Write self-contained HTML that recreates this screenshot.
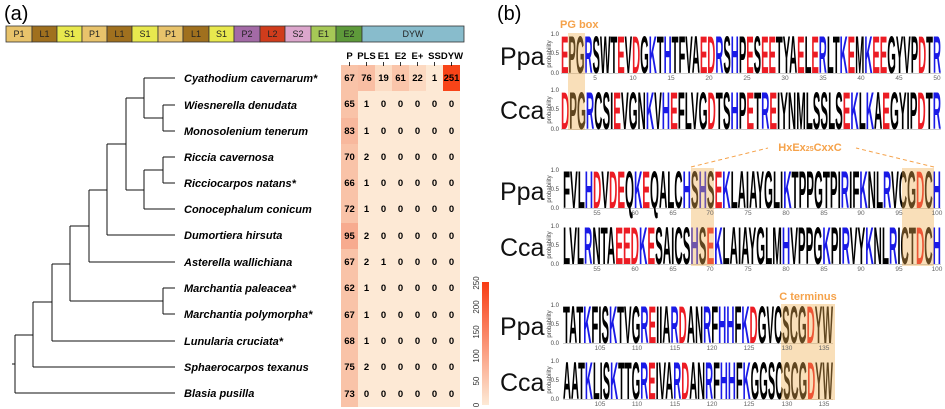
<!DOCTYPE html>
<html><head><meta charset="utf-8"><style>
html,body{margin:0;padding:0;background:#fff;}
svg{display:block;font-family:"Liberation Sans",sans-serif;}
.r{fill:#ec1c24}.b{fill:#1a1ae6}
.lg{font-weight:bold;font-size:53px;}
.tk{font-size:6.5px;fill:#666;}
.yl{font-size:6px;fill:#444;}
.tl{font-weight:bold;font-style:italic;font-size:11px;}
.hn{font-weight:bold;font-size:9.5px;text-anchor:middle;}
.hh{font-weight:bold;font-size:9.5px;text-anchor:middle;}
.ds{font-size:9px;text-anchor:middle;fill:#222;}
</style></head><body>
<svg width="945" height="409" viewBox="0 0 945 409" xmlns="http://www.w3.org/2000/svg">
<text x="4" y="20" font-size="20">(a)</text>
<text x="497" y="20" font-size="20">(b)</text>
<g stroke="#333" stroke-width="0.8">
<rect x="6" y="26" width="26" height="16" fill="#e8c36b"/>
<rect x="32" y="26" width="25" height="16" fill="#a0701e"/>
<rect x="57" y="26" width="25" height="16" fill="#e8e84e"/>
<rect x="82" y="26" width="25" height="16" fill="#e8c36b"/>
<rect x="107" y="26" width="25" height="16" fill="#a0701e"/>
<rect x="132" y="26" width="26" height="16" fill="#e8e84e"/>
<rect x="158" y="26" width="25" height="16" fill="#e8c36b"/>
<rect x="183" y="26" width="26" height="16" fill="#a0701e"/>
<rect x="209" y="26" width="25" height="16" fill="#e8e84e"/>
<rect x="234" y="26" width="26" height="16" fill="#a36aa6"/>
<rect x="260" y="26" width="25" height="16" fill="#d03c1c"/>
<rect x="285" y="26" width="26" height="16" fill="#dca6cc"/>
<rect x="311" y="26" width="25" height="16" fill="#a6c856"/>
<rect x="336" y="26" width="26" height="16" fill="#5e9a3a"/>
<rect x="362" y="26" width="102" height="16" fill="#88bccc"/>
</g>
<g class="ds">
<text x="19" y="37">P1</text><text x="44.5" y="37">L1</text><text x="69.5" y="37">S1</text>
<text x="94.5" y="37">P1</text><text x="119.5" y="37">L1</text><text x="145" y="37">S1</text>
<text x="170.5" y="37">P1</text><text x="196" y="37">L1</text><text x="221.5" y="37">S1</text>
<text x="247" y="37">P2</text><text x="272.5" y="37">L2</text><text x="298" y="37">S2</text>
<text x="323.5" y="37">E1</text><text x="349" y="37">E2</text><text x="413" y="37">DYW</text>
</g>
<g stroke="#111" stroke-width="1" fill="none">
<path d="M144,78H175M163,105H175M163,131H175M163,118V105M163,131V118M144,118H163M144,78V118"/>
<path d="M163,157H175M163,183H175M163,157V183M144,170H163M144,209H175M144,170V209"/>
<path d="M126,98H144M126,190H144M126,98V190"/>
<path d="M107,144H126M107,235H175M107,144V235"/>
<path d="M89,190H107M89,262H175M89,190V262"/>
<path d="M163,288H175M163,314H175M163,288V314M70,301H163M70,226H89M70,226V301"/>
<path d="M52,264H70M52,341H175M52,264V341"/>
<path d="M33,302H52M33,367H175M33,302V367"/>
<path d="M15,335H33M15,393H175M15,335V393M12,364H15"/>
</g>
<g class="tl">
<text x="184" y="82">Cyathodium cavernarum*</text>
<text x="184" y="109">Wiesnerella denudata</text>
<text x="184" y="135">Monosolenium tenerum</text>
<text x="184" y="161">Riccia cavernosa</text>
<text x="184" y="187">Ricciocarpos natans*</text>
<text x="184" y="213">Conocephalum conicum</text>
<text x="184" y="239">Dumortiera hirsuta</text>
<text x="184" y="266">Asterella wallichiana</text>
<text x="184" y="292">Marchantia paleacea*</text>
<text x="184" y="318">Marchantia polymorpha*</text>
<text x="184" y="345">Lunularia cruciata*</text>
<text x="184" y="371">Sphaerocarpos texanus</text>
<text x="184" y="397">Blasia pusilla</text>
</g>
<rect x="341" y="65" width="119" height="342" fill="#fde9d5"/>
<rect x="341" y="65" width="17" height="342" fill="#f9c3a8"/>
<rect x="341" y="118" width="17" height="26" fill="#f8b89d"/>
<rect x="341" y="223" width="17" height="26" fill="#f7ab8f"/>
<rect x="358" y="65" width="17" height="26" fill="#f9bea3"/>
<rect x="375" y="65" width="17" height="26" fill="#fcdcc4"/>
<rect x="392" y="65" width="17" height="26" fill="#fac5aa"/>
<rect x="409" y="65" width="17" height="26" fill="#fcd9c1"/>
<rect x="443" y="65" width="17" height="26" fill="#f84418"/>
<g stroke="#000" stroke-width="0.8"><path d="M349.5,62V66M366.5,62V66M383.5,62V66M400.5,62V66M417.5,62V66M434.5,62V66M451.5,62V66"/></g>
<g class="hh">
<text x="349.5" y="59">P</text><text x="366.5" y="59">PLS</text><text x="383.5" y="59">E1</text>
<text x="400.5" y="59">E2</text><text x="417.5" y="59">E+</text><text x="434.5" y="59">SS</text><text x="452" y="59">DYW</text>
</g>
<g class="hn">
<text y="81"><tspan x="349.5">67</tspan><tspan x="366.5">76</tspan><tspan x="383.5">19</tspan><tspan x="400.5">61</tspan><tspan x="417.5">22</tspan><tspan x="434.5">1</tspan><tspan x="451.5">251</tspan></text>
<text y="107"><tspan x="349.5">65</tspan><tspan x="366.5">1</tspan><tspan x="383.5">0</tspan><tspan x="400.5">0</tspan><tspan x="417.5">0</tspan><tspan x="434.5">0</tspan><tspan x="451.5">0</tspan></text>
<text y="134"><tspan x="349.5">83</tspan><tspan x="366.5">1</tspan><tspan x="383.5">0</tspan><tspan x="400.5">0</tspan><tspan x="417.5">0</tspan><tspan x="434.5">0</tspan><tspan x="451.5">0</tspan></text>
<text y="160"><tspan x="349.5">70</tspan><tspan x="366.5">2</tspan><tspan x="383.5">0</tspan><tspan x="400.5">0</tspan><tspan x="417.5">0</tspan><tspan x="434.5">0</tspan><tspan x="451.5">0</tspan></text>
<text y="186"><tspan x="349.5">66</tspan><tspan x="366.5">1</tspan><tspan x="383.5">0</tspan><tspan x="400.5">0</tspan><tspan x="417.5">0</tspan><tspan x="434.5">0</tspan><tspan x="451.5">0</tspan></text>
<text y="212"><tspan x="349.5">72</tspan><tspan x="366.5">1</tspan><tspan x="383.5">0</tspan><tspan x="400.5">0</tspan><tspan x="417.5">0</tspan><tspan x="434.5">0</tspan><tspan x="451.5">0</tspan></text>
<text y="239"><tspan x="349.5">95</tspan><tspan x="366.5">2</tspan><tspan x="383.5">0</tspan><tspan x="400.5">0</tspan><tspan x="417.5">0</tspan><tspan x="434.5">0</tspan><tspan x="451.5">0</tspan></text>
<text y="265"><tspan x="349.5">67</tspan><tspan x="366.5">2</tspan><tspan x="383.5">1</tspan><tspan x="400.5">0</tspan><tspan x="417.5">0</tspan><tspan x="434.5">0</tspan><tspan x="451.5">0</tspan></text>
<text y="291"><tspan x="349.5">62</tspan><tspan x="366.5">1</tspan><tspan x="383.5">0</tspan><tspan x="400.5">0</tspan><tspan x="417.5">0</tspan><tspan x="434.5">0</tspan><tspan x="451.5">0</tspan></text>
<text y="318"><tspan x="349.5">67</tspan><tspan x="366.5">1</tspan><tspan x="383.5">0</tspan><tspan x="400.5">0</tspan><tspan x="417.5">0</tspan><tspan x="434.5">0</tspan><tspan x="451.5">0</tspan></text>
<text y="344"><tspan x="349.5">68</tspan><tspan x="366.5">1</tspan><tspan x="383.5">0</tspan><tspan x="400.5">0</tspan><tspan x="417.5">0</tspan><tspan x="434.5">0</tspan><tspan x="451.5">0</tspan></text>
<text y="370"><tspan x="349.5">75</tspan><tspan x="366.5">2</tspan><tspan x="383.5">0</tspan><tspan x="400.5">0</tspan><tspan x="417.5">0</tspan><tspan x="434.5">0</tspan><tspan x="451.5">0</tspan></text>
<text y="397"><tspan x="349.5">73</tspan><tspan x="366.5">0</tspan><tspan x="383.5">0</tspan><tspan x="400.5">0</tspan><tspan x="417.5">0</tspan><tspan x="434.5">0</tspan><tspan x="451.5">0</tspan></text>
</g>
<defs><linearGradient id="cb" x1="0" y1="1" x2="0" y2="0"><stop offset="0" stop-color="#fdead6"/><stop offset="1" stop-color="#f83c14"/></linearGradient></defs>
<rect x="482" y="282" width="7" height="123" fill="url(#cb)"/>
<g font-size="8" fill="#333" text-anchor="middle">
<text transform="translate(479,283) rotate(-90)">250</text>
<text transform="translate(479,307) rotate(-90)">200</text>
<text transform="translate(479,332) rotate(-90)">150</text>
<text transform="translate(479,356) rotate(-90)">100</text>
<text transform="translate(479,381) rotate(-90)">50</text>
<text transform="translate(479,405) rotate(-90)">0</text>
</g>
<g font-size="25" fill="#111">
<text x="500" y="65">Ppa</text><text x="500" y="119">Cca</text>
<text x="500" y="200">Ppa</text><text x="500" y="256">Cca</text>
<text x="500" y="335">Ppa</text><text x="500" y="391">Cca</text>
</g>
<g class="yl" text-anchor="end">
<text x="559" y="36">1.0</text><text x="559" y="55">0.5</text><text x="559" y="75">0.0</text>
<text x="559" y="92">1.0</text><text x="559" y="111">0.5</text><text x="559" y="131">0.0</text>
<text x="559" y="172">1.0</text><text x="559" y="191">0.5</text><text x="559" y="210">0.0</text>
<text x="559" y="228">1.0</text><text x="559" y="247">0.5</text><text x="559" y="266">0.0</text>
<text x="559" y="307">1.0</text><text x="559" y="326">0.5</text><text x="559" y="345">0.0</text>
<text x="559" y="363">1.0</text><text x="559" y="382">0.5</text><text x="559" y="401">0.0</text>
</g>
<g class="yl" text-anchor="middle">
<text transform="translate(551,54) rotate(-90)">probability</text>
<text transform="translate(551,110) rotate(-90)">probability</text>
<text transform="translate(551,189) rotate(-90)">probability</text>
<text transform="translate(551,245) rotate(-90)">probability</text>
<text transform="translate(551,324) rotate(-90)">probability</text>
<text transform="translate(551,380) rotate(-90)">probability</text>
</g>
<g stroke="#999" stroke-width="0.6">
<path d="M561,73.5H941M561,129.5H941M563,208.5H941M563,264.5H941M563,343.5H833M563,399.5H833"/>
</g>
<text class="lg" x="561" y="73" textLength="380" lengthAdjust="spacingAndGlyphs"><tspan class="r">E</tspan>PG<tspan class="b">R</tspan>SWT<tspan class="r">E</tspan>V<tspan class="r">D</tspan>G<tspan class="b">K</tspan>T<tspan class="b">H</tspan>TFVA<tspan class="r">ED</tspan><tspan class="b">R</tspan>S<tspan class="b">H</tspan>P<tspan class="r">E</tspan>S<tspan class="r">EE</tspan>TYA<tspan class="r">E</tspan>L<tspan class="r">E</tspan><tspan class="b">R</tspan>LT<tspan class="b">K</tspan><tspan class="r">E</tspan>M<tspan class="b">K</tspan><tspan class="r">EE</tspan>GYVP<tspan class="r">D</tspan>T<tspan class="b">R</tspan></text>
<text class="lg" x="561" y="129" textLength="380" lengthAdjust="spacingAndGlyphs"><tspan class="r">D</tspan>PG<tspan class="b">R</tspan>CSI<tspan class="r">E</tspan>VGN<tspan class="b">K</tspan>V<tspan class="b">H</tspan><tspan class="r">E</tspan>FLVG<tspan class="r">D</tspan>TS<tspan class="b">H</tspan>P<tspan class="r">E</tspan>T<tspan class="b">R</tspan><tspan class="r">E</tspan>IYNMLSSLS<tspan class="r">E</tspan><tspan class="b">K</tspan>L<tspan class="b">K</tspan>A<tspan class="r">E</tspan>GYIP<tspan class="r">D</tspan>T<tspan class="b">R</tspan></text>
<text class="lg" x="563" y="208" textLength="378" lengthAdjust="spacingAndGlyphs">FVL<tspan class="b">H</tspan><tspan class="r">D</tspan>V<tspan class="r">DE</tspan>Q<tspan class="b">K</tspan><tspan class="r">E</tspan>QALC<tspan class="b">H</tspan>S<tspan class="b">H</tspan>S<tspan class="r">E</tspan><tspan class="b">K</tspan>LAIAYGLI<tspan class="b">K</tspan>TPPGTPI<tspan class="b">R</tspan>IF<tspan class="b">K</tspan>NL<tspan class="b">R</tspan>VCG<tspan class="r">D</tspan>C<tspan class="b">H</tspan></text>
<text class="lg" x="563" y="264" textLength="378" lengthAdjust="spacingAndGlyphs">LVL<tspan class="b">R</tspan>NTA<tspan class="r">EED</tspan><tspan class="b">K</tspan><tspan class="r">E</tspan>SAICS<tspan class="b">H</tspan>S<tspan class="r">E</tspan><tspan class="b">K</tspan>LAIAYGLM<tspan class="b">H</tspan>VPPG<tspan class="b">K</tspan>PI<tspan class="b">R</tspan>VY<tspan class="b">K</tspan>NL<tspan class="b">R</tspan>ICT<tspan class="r">D</tspan>C<tspan class="b">H</tspan></text>
<text class="lg" x="563" y="343" textLength="270" lengthAdjust="spacingAndGlyphs">TAT<tspan class="b">K</tspan>FIS<tspan class="b">K</tspan>TVG<tspan class="b">R</tspan><tspan class="r">E</tspan>IIA<tspan class="b">R</tspan><tspan class="r">D</tspan>AN<tspan class="b">R</tspan>F<tspan class="b">HH</tspan>F<tspan class="b">K</tspan><tspan class="r">D</tspan>GVCSCG<tspan class="r">D</tspan>YW</text>
<text class="lg" x="563" y="399" textLength="270" lengthAdjust="spacingAndGlyphs">AAT<tspan class="b">K</tspan>LIS<tspan class="b">K</tspan>TTG<tspan class="b">R</tspan><tspan class="r">E</tspan>IVA<tspan class="b">R</tspan><tspan class="r">D</tspan>AN<tspan class="b">R</tspan>F<tspan class="b">HH</tspan>F<tspan class="b">K</tspan>GGSCSCG<tspan class="r">D</tspan>YW</text>
<g fill="#f0b050" opacity="0.4">
<rect x="568" y="33" width="17" height="97"/>
<rect x="691" y="168" width="23" height="98"/>
<rect x="902" y="168" width="32" height="98"/>
<rect x="781" y="304" width="54" height="96"/>
</g>
<g fill="#f5a24a" font-weight="bold">
<text x="560" y="28" font-size="11">PG box</text>
<text x="810" y="151" font-size="11" text-anchor="middle">HxEx<tspan font-size="7">25</tspan>CxxC</text>
<text x="808" y="300" font-size="11" text-anchor="middle">C terminus</text>
</g>
<g stroke="#f5a24a" stroke-width="1" stroke-dasharray="4,3" fill="none">
<path d="M691,167L768,148M934,167L856,148"/>
</g>
<g class="tk" text-anchor="middle">
<text y="80"><tspan x="595">5</tspan><tspan x="633">10</tspan><tspan x="671">15</tspan><tspan x="709">20</tspan><tspan x="747">25</tspan><tspan x="785">30</tspan><tspan x="823">35</tspan><tspan x="861">40</tspan><tspan x="899">45</tspan><tspan x="937">50</tspan></text>
<text y="215"><tspan x="597">55</tspan><tspan x="635">60</tspan><tspan x="673">65</tspan><tspan x="710">70</tspan><tspan x="748">75</tspan><tspan x="786">80</tspan><tspan x="824">85</tspan><tspan x="861">90</tspan><tspan x="899">95</tspan><tspan x="937">100</tspan></text>
<text y="271"><tspan x="597">55</tspan><tspan x="635">60</tspan><tspan x="673">65</tspan><tspan x="710">70</tspan><tspan x="748">75</tspan><tspan x="786">80</tspan><tspan x="824">85</tspan><tspan x="861">90</tspan><tspan x="899">95</tspan><tspan x="937">100</tspan></text>
<text y="350"><tspan x="600">105</tspan><tspan x="637">110</tspan><tspan x="675">115</tspan><tspan x="712">120</tspan><tspan x="749">125</tspan><tspan x="787">130</tspan><tspan x="824">135</tspan></text>
<text y="406"><tspan x="600">105</tspan><tspan x="637">110</tspan><tspan x="675">115</tspan><tspan x="712">120</tspan><tspan x="749">125</tspan><tspan x="787">130</tspan><tspan x="824">135</tspan></text>
</g>
</svg>
</body></html>
